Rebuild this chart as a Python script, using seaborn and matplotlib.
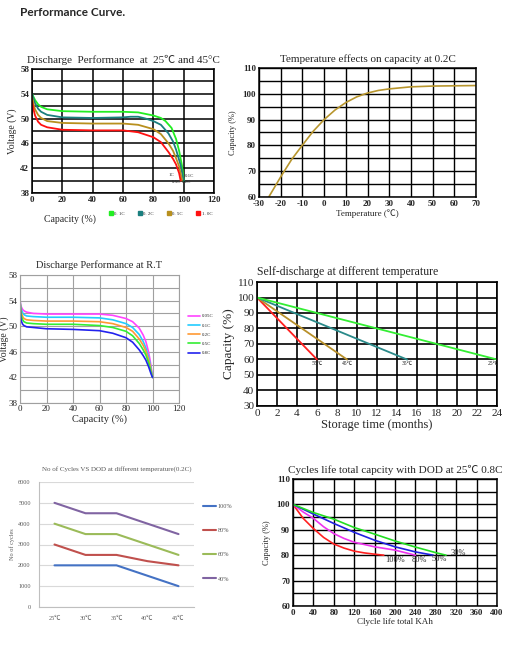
import matplotlib
matplotlib.use('Agg')
import matplotlib.pyplot as plt
import seaborn as sns
import numpy as np
from matplotlib.lines import Line2D

sns.set_theme(style='white')
plt.rcParams['font.family'] = ['Liberation Serif', 'Noto Sans CJK SC', 'DejaVu Sans']
plt.rcParams['axes.unicode_minus'] = False

# 1. Discharge performance at 25/45 C
p1_x_01 = [0, 1, 2, 4, 6, 10, 20, 40, 60, 70, 80, 85, 88, 92, 95, 97, 99, 100]
p1_v_01 = [54, 53.5, 53.0, 52.3, 51.9, 51.5, 51.2, 51.1, 51.1, 51.0, 50.5, 50.1, 49.6, 48.5, 46.7, 44.8, 42.3, 40.0]
p1_x_02 = [0, 1, 2, 4, 6, 10, 20, 40, 60, 65, 70, 75, 80, 85, 90, 93, 95, 98, 100]
p1_v_02 = [54, 53.2, 52.5, 51.6, 51.1, 50.6, 50.2, 50.1, 50.2, 50.3, 50.3, 50.0, 49.6, 49.0, 47.6, 46.3, 45.0, 42.5, 40.0]
p1_x_05 = [0, 1, 2, 4, 6, 10, 20, 40, 60, 70, 80, 85, 90, 93, 95, 97, 99]
p1_v_05 = [53.5, 52.4, 51.5, 50.6, 50.1, 49.6, 49.3, 49.2, 49.2, 49.0, 48.3, 47.5, 46.0, 44.8, 43.6, 42.3, 40.0]
p1_x_10 = [0, 1, 2, 4, 6, 10, 20, 40, 60, 70, 80, 85, 90, 93, 95, 97, 98]
p1_v_10 = [52.8, 51.5, 50.5, 49.5, 49.0, 48.6, 48.2, 48.1, 48.1, 47.8, 47.0, 46.2, 44.6, 43.5, 42.6, 41.2, 40.0]
p1_labels = ['0. 1C', '0. 2C', '0. 5C', '1. 0C']
p1_colors = ['#22EE22', '#1A7F7F', '#B8901E', '#FF1010']

# 2. Temperature effects on capacity
p2_temp = [-25.5, -20, -15, -10, -5, 0, 5, 10, 15, 20, 25, 30, 40, 50, 60, 70]
p2_cap = [60, 67.8, 74.5, 80.1, 85.5, 90.0, 93.7, 96.6, 98.8, 100.3, 101.3, 101.9, 102.7, 103.0, 103.1, 103.2]

# 3. Discharge performance at R.T
p3_x = [0, 0.5, 1, 2, 3, 5, 10, 20, 40, 60, 70, 80, 85, 90, 93, 95, 97, 98, 99, 100]
p3_v_005 = [54, 53.4, 53.0, 52.6, 52.4, 52.2, 52.0, 51.9, 51.9, 51.9, 51.7, 51.2, 50.7, 49.7, 48.6, 47.6, 46.0, 44.9, 43.6, 42.0]
p3_v_01 = [54, 53.1, 52.6, 52.1, 51.8, 51.6, 51.5, 51.4, 51.4, 51.3, 51.0, 50.4, 49.8, 48.7, 47.6, 46.6, 45.2, 44.3, 43.2, 42.0]
p3_v_02 = [54, 52.8, 52.1, 51.5, 51.2, 51.0, 50.9, 50.8, 50.8, 50.7, 50.4, 49.8, 49.2, 48.0, 47.0, 46.1, 44.8, 44.0, 43.0, 42.0]
p3_v_05 = [54, 52.4, 51.6, 51.0, 50.7, 50.5, 50.4, 50.3, 50.3, 50.1, 49.8, 49.2, 48.5, 47.3, 46.3, 45.5, 44.3, 43.6, 42.8, 42.0]
p3_v_08 = [54, 51.5, 50.8, 50.3, 50.1, 49.9, 49.8, 49.6, 49.5, 49.3, 48.9, 48.2, 47.5, 46.3, 45.4, 44.7, 43.7, 43.1, 42.5, 42.0]
p3_labels = ['0.05C', '0.1C', '0.2C', '0.5C', '0.8C']
p3_colors = ['#FF44FF', '#22CCFF', '#FF9933', '#33EE33', '#2222EE']

# 4. Self-discharge
p4_months = {'55℃': [0, 6], '45℃': [0, 9], '35℃': [0, 15], '25℃': [0, 24]}
p4_cap = [100, 60]
p4_colors = ['#FF2020', '#B8902A', '#2A8A8A', '#33EE33']

# 5. Cycles vs DOD
p5_temps = ['25℃', '30℃', '35℃', '40℃', '45℃']
p5_100 = [2000, 2000, 2000, 1500, 1000]
p5_80 = [3000, 2500, 2500, 2200, 2000]
p5_60 = [4000, 3500, 3500, 3000, 2500]
p5_40 = [5000, 4500, 4500, 4000, 3500]
p5_labels = ['100%', '80%', '60%', '40%']
p5_colors = ['#4472C4', '#C0504D', '#9BBB59', '#8064A2']

# 6. Cycle life total capacity
p6_x_100 = [0, 20, 40, 60, 80, 100, 120, 140, 160, 178]
p6_c_100 = [100, 94.5, 90.5, 87.0, 84.4, 82.8, 81.6, 80.9, 80.4, 80.0]
p6_x_80 = [0, 20, 40, 60, 80, 100, 120, 160, 200, 240]
p6_c_80 = [100, 97.0, 94.5, 91.2, 88.5, 86.6, 85.1, 83.3, 82.0, 80.0]
p6_x_50 = [0, 40, 80, 120, 160, 200, 240, 275]
p6_c_50 = [100, 96.2, 92.5, 89.0, 85.9, 83.3, 81.3, 80.0]
p6_x_30 = [0, 40, 80, 120, 160, 200, 240, 280, 300]
p6_c_30 = [100, 96.8, 94.2, 90.9, 88.3, 85.6, 83.2, 81.0, 80.0]
p6_labels = ['100%', '80%', '50%', '30%']
p6_colors = ['#FF2020', '#EE33EE', '#2020E0', '#22DD22']

W, H = 520, 649
fig = plt.figure(figsize=(W / 100, H / 100), dpi=100)
fig.patch.set_facecolor('white')


def px_axes(l, t, r, b):
    return fig.add_axes([l / W, 1 - b / H, (r - l) / W, (b - t) / H])


def frame(ax, color='black', lw=1.0):
    for s in ax.spines.values():
        s.set_visible(True)
        s.set_color(color)
        s.set_linewidth(lw)


def bold_ticks(ax):
    for t in ax.get_xticklabels() + ax.get_yticklabels():
        t.set_fontweight('bold')


fig.text(20 / W, 1 - 13 / H, 'Performance Curve.', family=['Lato', 'DejaVu Sans'],
         fontweight='bold', fontsize=8.5, va='center', ha='left')

# ---- panel 1
ax1 = px_axes(32, 69, 214, 193)
for xs, ys, c in zip([p1_x_01, p1_x_02, p1_x_05, p1_x_10],
                     [p1_v_01, p1_v_02, p1_v_05, p1_v_10], p1_colors):
    sns.lineplot(x=xs, y=ys, ax=ax1, color=c, lw=1.3)
ax1.set_xlim(0, 120)
ax1.set_ylim(38, 58)
ax1.set_xticks(range(0, 121, 20))
ax1.set_yticks(range(38, 59, 4))
ax1.set_yticks(range(38, 59, 2), minor=True)
ax1.grid(which='both', color='black', lw=1.1)
frame(ax1, 'black', 1.1)
ax1.tick_params(length=0, labelsize=6.5, pad=2)
bold_ticks(ax1)
ax1.set_title('Discharge  Performance  at  25℃ and 45°C', fontsize=8, pad=4)
ax1.set_ylabel('Voltage (V)', fontsize=7, labelpad=2)
ax1.set_xlabel('Capacity (%)', fontsize=7)
ax1.xaxis.set_label_coords(0.21, -0.17)
for t, x, y in [('1C', 92, 40.9), ('0.1C', 104, 40.7), ('0.5C', 95.5, 39.7), ('0.2C', 102, 39.7)]:
    ax1.text(x, y, t, fontsize=3.5, ha='center', va='center')
h1 = [Line2D([], [], marker='s', ls='none', color=c, markersize=3.5) for c in p1_colors]
fig.legend(h1, p1_labels, loc='center left', bbox_to_anchor=(104 / W, 1 - 214 / H), ncol=4,
           frameon=False, fontsize=3.5, handletextpad=0.2, columnspacing=2.6, handlelength=1)

# ---- panel 2
ax2 = px_axes(259, 68, 476, 197)
sns.lineplot(x=p2_temp, y=p2_cap, ax=ax2, color='#B8962E', lw=1.2)
ax2.set_xlim(-30, 70)
ax2.set_ylim(60, 110)
ax2.set_xticks(range(-30, 71, 10))
ax2.set_yticks(range(60, 111, 10))
ax2.set_yticks(range(60, 111, 5), minor=True)
ax2.grid(which='both', color='black', lw=1.0)
frame(ax2, 'black', 1.1)
ax2.tick_params(length=0, labelsize=6.5, pad=2)
bold_ticks(ax2)
ax2.set_title('Temperature effects on capacity at 0.2C', fontsize=8, pad=4)
ax2.set_ylabel('Capacity (%)', fontsize=6, labelpad=4)
ax2.set_xlabel('Temperature (℃)', fontsize=6.5, labelpad=1)

# ---- panel 3
ax3 = px_axes(20, 275, 179, 403)
for ys, c, lab in zip([p3_v_005, p3_v_01, p3_v_02, p3_v_05, p3_v_08], p3_colors, p3_labels):
    sns.lineplot(x=p3_x, y=ys, ax=ax3, color=c, lw=1.2, label=lab)
ax3.set_xlim(0, 120)
ax3.set_ylim(38, 58)
ax3.set_xticks(range(0, 121, 20))
ax3.set_yticks(range(38, 59, 4))
ax3.set_yticks(range(38, 59, 2), minor=True)
ax3.grid(which='both', color='#A0A0A0', lw=0.8)
frame(ax3, '#A0A0A0', 0.8)
ax3.tick_params(length=0, labelsize=6.5, pad=1.5)
ax3.set_title('Discharge Performance at R.T', fontsize=7.5, pad=5)
ax3.set_ylabel('Voltage (V)', fontsize=7)
ax3.yaxis.set_label_coords(-0.07, 0.5)
ax3.set_xlabel('Capacity (%)', fontsize=7.5, labelpad=1)
ax3.legend(loc='upper left', bbox_to_anchor=(1.03, 0.73), frameon=False, fontsize=3.5,
           handlelength=2.5, labelspacing=1.0, handletextpad=0.3)

# ---- panel 4
ax4 = px_axes(257, 282, 497, 406)
for (lab, xs), c in zip(p4_months.items(), p4_colors):
    sns.lineplot(x=xs, y=p4_cap, ax=ax4, color=c, lw=1.3)
    ax4.text(xs[1] - 0.4 if xs[1] == 24 else xs[1], 57.5, lab, fontsize=4, ha='center', va='center')
ax4.set_xlim(0, 24)
ax4.set_ylim(30, 110)
ax4.set_xticks(range(0, 25, 2))
ax4.set_yticks(range(30, 111, 10))
ax4.grid(color='black', lw=1.2)
frame(ax4, 'black', 1.2)
ax4.tick_params(length=0, labelsize=8, pad=2)
ax4.set_title('Self-discharge at different temperature', fontsize=8.5, loc='left', pad=5)
ax4.set_ylabel('Capacity (%)', fontsize=9.5, labelpad=2)
ax4.set_xlabel('Storage time (months)', fontsize=9, labelpad=1)

# ---- panel 5
ax5 = px_axes(39, 482, 194, 607)
for ys, c, lab in zip([p5_100, p5_80, p5_60, p5_40], p5_colors, p5_labels):
    sns.lineplot(x=p5_temps, y=ys, ax=ax5, color=c, lw=1.5, label=lab, sort=False)
ax5.set_xlim(-0.5, 4.5)
ax5.set_ylim(0, 6000)
ax5.set_yticks(range(0, 6001, 1000))
ax5.grid(axis='y', color='#D9D9D9', lw=0.8)
for s in ['top', 'right']:
    ax5.spines[s].set_visible(False)
for s in ['left', 'bottom']:
    ax5.spines[s].set_visible(True)
    ax5.spines[s].set_color('#BFBFBF')
    ax5.spines[s].set_linewidth(0.8)
ax5.tick_params(length=0, labelsize=4.5, labelcolor='#595959', pad=6)
ax5.set_title('No of Cycles VS DOD at different temperature(0.2C)', fontsize=5, color='#595959', pad=8)
ax5.set_ylabel('No of cycles', fontsize=4.5, color='#595959', labelpad=2)
ax5.set_xlabel('')
ax5.legend(loc='upper left', bbox_to_anchor=(1.02, 0.87), frameon=False, fontsize=4.5,
           labelcolor='#595959', handlelength=2.2, labelspacing=3.0, handletextpad=0.2)

# ---- panel 6
ax6 = px_axes(293, 479, 497, 606)
for xs, ys, c in zip([p6_x_100, p6_x_80, p6_x_50, p6_x_30],
                     [p6_c_100, p6_c_80, p6_c_50, p6_c_30], p6_colors):
    sns.lineplot(x=xs, y=ys, ax=ax6, color=c, lw=1.2)
for t, x, y in zip(p6_labels, [200, 247, 287, 325], [78, 78, 78.5, 81]):
    ax6.text(x, y, t, fontsize=6, ha='center', va='center')
ax6.set_xlim(0, 400)
ax6.set_ylim(60, 110)
ax6.set_xticks(range(0, 401, 40))
ax6.set_yticks(range(60, 111, 10))
ax6.set_yticks(range(60, 111, 5), minor=True)
ax6.grid(which='both', color='black', lw=1.0)
frame(ax6, 'black', 1.1)
ax6.tick_params(length=0, labelsize=6.5, pad=2)
bold_ticks(ax6)
ax6.set_title('Cycles life total capcity with DOD at 25℃ 0.8C', fontsize=8, pad=4)
ax6.set_ylabel('Capacity (%)', fontsize=6, labelpad=4)
ax6.set_xlabel('Clycle life total KAh', fontsize=6.5, labelpad=1)

fig.savefig('out.png', dpi=100)
